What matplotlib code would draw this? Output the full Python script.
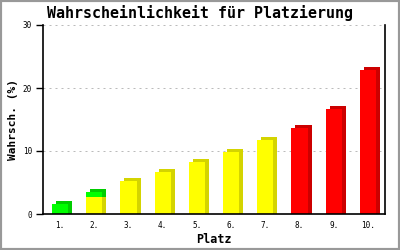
import matplotlib
matplotlib.use("Agg")
import matplotlib.pyplot as plt
import matplotlib.transforms as mtransforms
from matplotlib.patches import Rectangle

# Wahrscheinlichkeit je Platz (%), aufgeteilt nach Farbe
platz = [1, 2, 3, 4, 5, 6, 7, 8, 9, 10]
platz_labels = ["1.", "2.", "3.", "4.", "5.", "6.", "7.", "8.", "9.", "10."]
gelb = [0, 2.7, 5.2, 6.7, 8.3, 9.9, 11.8, 0, 0, 0]
gruen = [1.6, 0.8, 0, 0, 0, 0, 0, 0, 0, 0]
rot = [0, 0, 0, 0, 0, 0, 0, 13.7, 16.7, 22.9]
y_ticks = [0, 10, 20, 30]

mono = "DejaVu Sans Mono"

fig = plt.figure(figsize=(4, 2.5), dpi=100)
ax = fig.add_axes([43 / 400, 36 / 250, 342 / 400, 189 / 250])

# 3D-Effekt: dunklere Kopien, nach rechts (und oben) versetzt
side_tr = ax.transData + mtransforms.ScaledTranslation(4 / 100, 0, fig.dpi_scale_trans)
top_tr = ax.transData + mtransforms.ScaledTranslation(4 / 100, 3 / 100, fig.dpi_scale_trans)

width = 0.47
serien = [
    (gelb, [0] * 10, "#ffff00", "#d4d400"),
    (gruen, gelb, "#00ff00", "#00cc00"),
    (rot, [0] * 10, "#ff0000", "#cc0000"),
]
for werte, unten, farbe, dunkel in serien:
    for x, h, b in zip(platz, werte, unten):
        if h <= 0:
            continue
        for tr in (side_tr, top_tr):
            ax.add_patch(Rectangle((x - width / 2, b), width, h, facecolor=dunkel,
                                   linewidth=0, transform=tr, zorder=2))
        ax.bar(x, h, width, bottom=b, color=farbe, linewidth=0, zorder=3)

ax.set_xlim(0.5, 10.5)
ax.set_ylim(0, 30)
ax.set_xticks(platz)
ax.set_xticklabels(platz_labels, fontfamily=mono, fontsize=5.5)
ax.set_yticks(y_ticks)
ax.set_yticklabels([str(v) for v in y_ticks], fontfamily=mono, fontsize=5.5)
ax.tick_params(axis="x", length=0, pad=5)
ax.tick_params(axis="y", length=5, width=1, pad=3)

for v in y_ticks[1:]:
    ax.axhline(v, color="#bbbbbb", lw=0.72, linestyle=(0, (2, 4)), zorder=1)

ax.spines["top"].set_visible(False)
for s in ["left", "right", "bottom"]:
    ax.spines[s].set_linewidth(1.2)
    ax.spines[s].set_zorder(4)

ax.set_xlabel("Platz", fontfamily=mono, fontweight="bold", fontsize=8.5, labelpad=2)
ax.set_ylabel("Wahrsch. (%)", fontfamily=mono, fontweight="bold", fontsize=8, labelpad=3)
fig.text(0.5, 1 - 13 / 250, "Wahrscheinlichkeit für Platzierung", ha="center", va="center",
         fontfamily=mono, fontweight="bold", fontsize=10.8)

fig.patches.append(Rectangle((0, 0), 1, 1, transform=fig.transFigure, fill=False,
                             edgecolor="#999999", linewidth=3))

fig.savefig("out.png", dpi=100)
